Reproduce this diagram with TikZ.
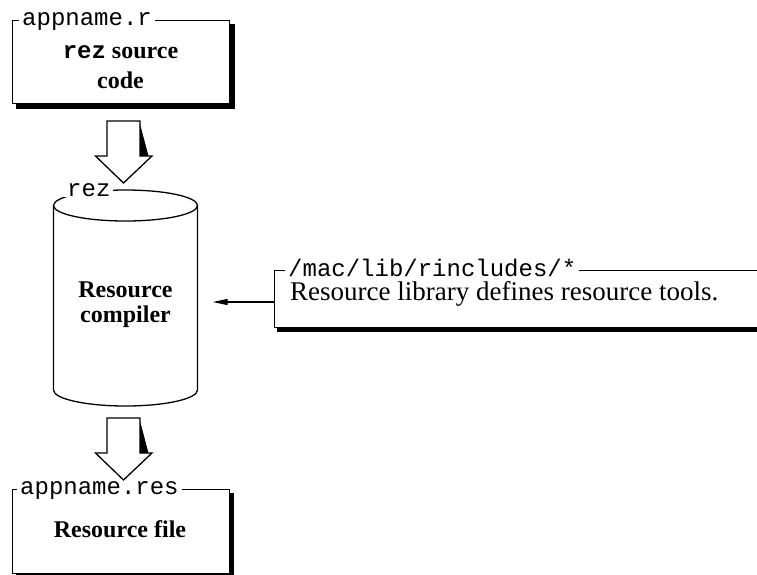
\documentclass[tikz,border=0pt]{standalone}
\usepackage{fontspec}
\setmainfont{Liberation Serif}
\setmonofont{Liberation Mono}
\usetikzlibrary{arrows.meta}

\tikzset{
  frame/.style={draw, line width=1.3pt, fill=white, inner sep=0pt},
  tag/.style={font=\fontsize{24}{24}\selectfont\ttfamily, fill=white,
    inner xsep=3pt, inner ysep=1pt, anchor=base west},
  boldtxt/.style={font=\fontsize{24}{24}\selectfont\bfseries, anchor=base, inner sep=0pt},
  plaintxt/.style={font=\fontsize{27}{27}\selectfont, anchor=base west, inner sep=0pt},
  outline/.style={line width=1.3pt},
  blockarrow/.pic={
    % hollow down arrow with a dark wedge on its right side
    \draw[outline, fill=white, line join=miter]
      (-16.5,0) -- (16.5,0) -- (16.5,35) -- (28.5,35) -- (0,62)
      -- (-28,35) -- (-16.5,35) -- cycle;
    \fill (16.5,3) -- (16.5,35) -- (25,35) -- cycle;
  }
}

\begin{document}
\begin{tikzpicture}[x=1pt, y=-1pt]
\useasboundingbox (0,0) rectangle (757,574);

% source file box
\fill (16,24) rectangle (234.5,108.5);
\node[frame, anchor=north west, minimum width=217pt, minimum height=83pt] (src) at (12,20) {};
\node[tag] (srctag) at (19,25.5) {appname.r};
\node[boldtxt] (srcA) at (120.5,58) {\texttt{rez} source};
\node[boldtxt] (srcB) at (120.5,88) {code};

% first block arrow
\pic at (123.5,121) {blockarrow};

% compiler cylinder
\node[inner sep=0pt, minimum width=144pt, minimum height=180pt] (cyl) at (125.5,302) {};
\draw[outline] (53.5,205.5) -- (53.5,390)
  arc[start angle=180, end angle=0, x radius=72, y radius=16] -- (197.5,205.5);
\draw[outline] (125.5,205.5) ellipse [x radius=72, y radius=15.5];
\node[tag] (cyltag) at (64,196) {rez};
\node[boldtxt] (cylA) at (125.5,297) {Resource};
\node[boldtxt] (cylB) at (125.5,322) {compiler};

% library box
\fill (277,274) rectangle (800,332);
\node[frame, anchor=north west, minimum width=520pt, minimum height=57pt] (lib) at (274,270) {};
\node[tag] (libtag) at (285,276.5) {/mac/lib/rincludes/*};
\node[plaintxt] (libtxt) at (290,300) {Resource library defines resource tools.};

\draw[outline, -{Triangle[length=15pt, width=6pt]}, shorten >=15pt]
  (cyl.east -| lib.west) -- (cyl.east);

% second block arrow
\pic at (123.5,418) {blockarrow};

% resource file box
\fill (16,493) rectangle (233.5,600);
\node[frame, anchor=north west, minimum width=216.5pt, minimum height=84pt] (res) at (12,489) {};
\node[tag] (restag) at (17,494.5) {appname.res};
\node[boldtxt] (resA) at (120,537) {Resource file};
\end{tikzpicture}
\end{document}
